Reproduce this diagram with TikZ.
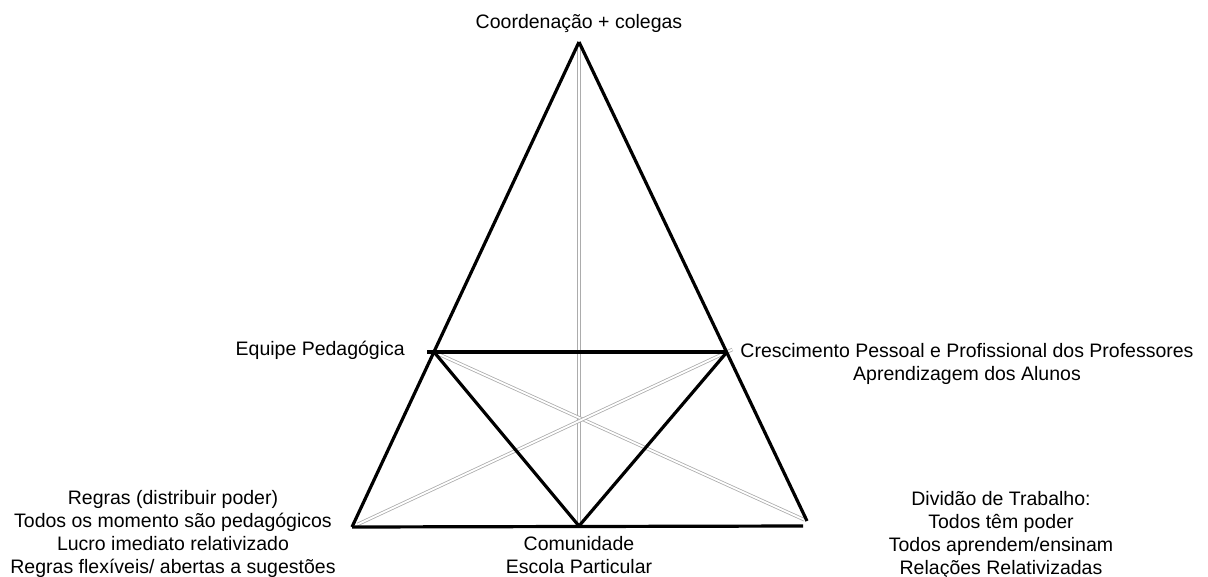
\documentclass[tikz,border=0pt]{standalone}
\usepackage{fontspec}
\setmainfont{Liberation Sans}
\usepackage{tikz}
\usetikzlibrary{positioning, calc}

\begin{document}
\begin{tikzpicture}[
    x=1pt, y=-1pt,
    every node/.style={font=\fontsize{19.5}{23}\selectfont, align=center, inner sep=0pt},
    side/.style={draw=black, line width=3.2pt},
    link/.style={draw=gray!65, line width=0.8pt, double=white, double distance=1.8pt}
]
\useasboundingbox (0,0) rectangle (1208,576);

% vertices
\coordinate (apex) at (579,42);
\coordinate (eq) at (434,352);
\coordinate (eqL) at (427,352);
\coordinate (cr) at (727,352);
\coordinate (rg) at (352,527);
\coordinate (dv) at (807,521);
\coordinate (cm) at (579,526);
\coordinate (cmR) at (803,526);

% labels (base = last line)
\node[anchor=base] (tApex) at (579,28) {Coordenação + colegas};
\node[anchor=base east] (tEq) at (405,355) {Equipe Pedagógica};
\node[anchor=base] (tCr) at (967,380) {Crescimento Pessoal e Profissional dos Professores\\Aprendizagem dos Alunos};
\node[anchor=base] (tRg) at (173,573) {Regras (distribuir poder)\\Todos os momento são pedagógicos\\Lucro imediato relativizado\\Regras flexíveis/ abertas a sugestões};
\node[anchor=base] (tCm) at (579,573) {Comunidade\\Escola Particular};
\node[anchor=base] (tDv) at (1001,574) {Dividão de Trabalho:\\Todos têm poder\\Todos aprendem/ensinam\\Relações Relativizadas};

% thin double links
\draw[link, shorten <=6pt, shorten >=2pt] (apex) -- (cm);
\draw[link, shorten <=3pt, shorten >=3pt] (eq) -- (dv);
\draw[link, shorten <=-6pt, shorten >=6pt] (cr) -- (rg);

% triangle
\draw[side] (apex) -- (rg);
\draw[side] (apex) -- (dv);
\draw[side] (eqL) -- (cr);
\draw[side] (rg) -- (cmR);
\draw[side] (eq) -- (cm);
\draw[side] (cm) -- (cr);
\end{tikzpicture}
\end{document}
